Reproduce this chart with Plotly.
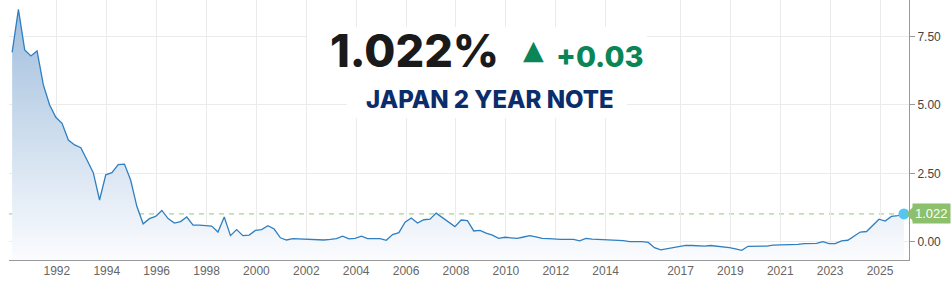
import pandas as pd
import plotly.graph_objects as go

# ---- data (roughly quarterly) ----
yields = [
    6.92, 8.49, 7.01, 6.79, 6.97, 5.73, 5.00, 4.55, 4.33, 3.72,
    3.54, 3.44, 2.99, 2.53, 1.53, 2.45, 2.53, 2.82, 2.84, 2.25,
    1.30, 0.66, 0.85, 0.93, 1.15, 0.85, 0.69, 0.74, 0.91, 0.61,
    0.61, 0.59, 0.58, 0.36, 0.91, 0.23, 0.45, 0.23, 0.25, 0.42,
    0.45, 0.59, 0.47, 0.15, 0.07, 0.12, 0.11, 0.09, 0.07, 0.07,
    0.07, 0.09, 0.12, 0.21, 0.11, 0.13, 0.21, 0.12, 0.11, 0.12,
    0.06, 0.27, 0.34, 0.72, 0.87, 0.69, 0.81, 0.83, 1.05, 0.88,
    0.74, 0.56, 0.80, 0.78, 0.40, 0.42, 0.32, 0.25, 0.13, 0.17,
    0.15, 0.13, 0.18, 0.23, 0.18, 0.13, 0.12, 0.10, 0.09, 0.09,
    0.09, 0.04, 0.13, 0.10, 0.09, 0.07, 0.07, 0.07, 0.05, 0.01,
    0.01, 0.01, -0.02, -0.21, -0.29, -0.25, -0.20, -0.16, -0.13, -0.13,
    -0.15, -0.15, -0.13, -0.15, -0.17, -0.21, -0.25, -0.31, -0.16, -0.16,
    -0.15, -0.15, -0.12, -0.11, -0.11, -0.11, -0.09, -0.06, -0.06, -0.05,
    0.01, -0.06, -0.06, 0.04, 0.06, 0.20, 0.36, 0.38, 0.59, 0.83,
    0.76, 0.93, 0.96, 1.022,
]
dates = pd.date_range("1990-03-01", periods=len(yields), freq="3MS") + pd.Timedelta(days=16)

tick_years = ["1992", "1994", "1996", "1998", "2000", "2002", "2004", "2006",
              "2008", "2010", "2012", "2014", "2017", "2019", "2021", "2023", "2025"]
tick_dates = [y + "-01-01" for y in tick_years]
y_ticks = [0, 2.5, 5, 7.5]

last_value = 1.022
change = "+0.03"
title_value = "1.022%"
subtitle = "JAPAN 2 YEAR NOTE"

Y_MIN, Y_MAX = -0.66, 8.83
X_MIN, X_MAX = "1990-01-30", "2026-03-01"

# plot-area pixel helpers (plot area: x 9..909, y 0..260)
def px(x):
    return (x - 9) / 900.0

def py(y):
    return 1 - y / 260.0

fig = go.Figure()
fig.add_trace(go.Scatter(x=dates, y=[Y_MIN] * len(yields), mode="lines",
                         line=dict(width=0), hoverinfo="skip", showlegend=False))
fig.add_trace(go.Scatter(
    x=dates, y=yields, mode="lines", fill="tonexty",
    line=dict(color="#2f7fc1", width=1.3),
    fillgradient=dict(type="vertical",
                      colorscale=[[0, "rgba(251,252,254,1)"], [1, "rgba(160,190,221,1)"]]),
    showlegend=False, hoverinfo="skip"))
fig.add_trace(go.Scatter(x=[dates[-1]], y=[yields[-1]], mode="markers",
                         marker=dict(color="#55c6f2", size=11), showlegend=False,
                         hoverinfo="skip", cliponaxis=False))

fig.add_shape(type="line", xref="paper", x0=0, x1=1, yref="y", y0=last_value, y1=last_value,
              line=dict(color="#a6d68a", width=1.2, dash="5px,5px"), layer="below")

# white panels behind the headline texts
fig.add_shape(type="rect", xref="paper", yref="paper", x0=px(307), x1=px(647), y0=py(80), y1=py(27),
              fillcolor="white", line=dict(width=0), layer="above")
fig.add_shape(type="rect", xref="paper", yref="paper", x0=px(347), x1=px(627), y0=py(118), y1=py(80),
              fillcolor="white", line=dict(width=0), layer="above")

fig.add_shape(type="path", xref="paper", xsizemode="pixel", xanchor=1,
              yref="y", ysizemode="pixel", yanchor=last_value,
              path="M-3,0 L6,9 L6,-9 Z", fillcolor="#8cc06c", line=dict(width=0), layer="above")

fig.add_annotation(xref="paper", x=1, xanchor="left", xshift=3, yref="y", y=last_value,
                   text=f"{last_value:.3f}", showarrow=False,
                   font=dict(family="Liberation Sans, Arial", size=13, color="white"),
                   bgcolor="#8cc06c", borderpad=2)

fig.add_annotation(xref="paper", x=px(501), xanchor="right", yref="paper", y=py(51), yanchor="middle",
                   text=title_value, showarrow=False,
                   font=dict(family="Inter", weight=800, size=45, color="#1a1a1a"))
fig.add_annotation(xref="paper", x=px(533), xanchor="center", yref="paper", y=py(50), yanchor="middle",
                   text="▲", showarrow=False,
                   font=dict(family="DejaVu Sans", size=27, color="#0a8556"))
fig.add_annotation(xref="paper", x=px(554), xanchor="left", yref="paper", y=py(56), yanchor="middle",
                   text=change, showarrow=False,
                   font=dict(family="Inter", weight=800, size=29, color="#0a8556"))

fig.add_annotation(xref="paper", x=px(490), xanchor="center", yref="paper", y=py(99), yanchor="middle",
                   text=subtitle, showarrow=False,
                   font=dict(family="Inter", weight=800, size=24, color="#0b2d6b"))

fig.update_layout(
    width=951, height=293, margin=dict(l=9, r=42, t=0, b=33),
    paper_bgcolor="white", plot_bgcolor="white", hovermode=False,
    font=dict(family="Liberation Sans, Arial", size=12, color="#555"),
)
fig.update_xaxes(type="date", range=[X_MIN, X_MAX], tickvals=tick_dates, ticktext=tick_years,
                 showgrid=True, gridcolor="#ebebeb", gridwidth=1,
                 showline=True, linecolor="#999", linewidth=1, ticks="",
                 tickfont=dict(color="#666", size=12), zeroline=False)
fig.update_yaxes(side="right", range=[Y_MIN, Y_MAX], tickvals=y_ticks, tickformat=".2f",
                 showgrid=True, gridcolor="#ebebeb", gridwidth=1,
                 showline=True, linecolor="#999", linewidth=1,
                 ticks="outside", ticklen=5, tickcolor="#999",
                 tickfont=dict(color="#444", size=12), zeroline=False)

fig.write_html("out.html")
